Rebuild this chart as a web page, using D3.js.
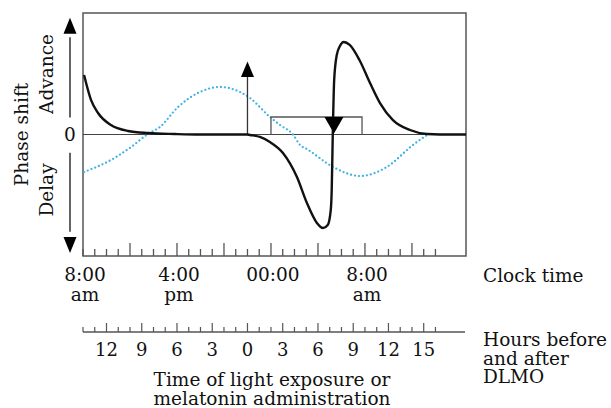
<!DOCTYPE html>
<meta charset="utf-8">
<script src="https://d3js.org/d3.v7.min.js"></script>
<style>
  body { margin: 0; background: #fff; }
  text { font-family: "DejaVu Serif", serif; fill: #111; }
</style>
<body>
<div id="chart"></div>
<script>
  // x values are clock hours (8 = 8:00 am, 24 = midnight, 32 = 8:00 am next day)
  var lightHours = [8.09, 8.68, 9.28, 10.38, 11.83, 13.53, 15.83, 17.96, 21.96, 22.21, 23.06, 23.91, 25.02, 26.21, 27.06, 27.91, 28.43, 28.83, 29.09, 29.17, 29.26, 29.38, 29.6, 29.87, 30.19, 30.7, 31.53, 32.43, 33.28, 34.38, 35.83, 37.28, 38.38, 40.6];
  var lightShift = [0.49, 0.285, 0.177, 0.078, 0.029, 0.012, 0.004, 0, 0, -0.004, -0.02, -0.062, -0.152, -0.35, -0.564, -0.728, -0.77, -0.745, -0.62, -0.457, 0, 0.449, 0.654, 0.728, 0.761, 0.737, 0.613, 0.424, 0.259, 0.119, 0.037, 0.004, 0, 0];

  var melHours = [8.09, 10.38, 12.0, 13.53, 14.55, 16.09, 17.96, 19.66, 21.36, 22.21, 23.91, 24.77, 25.87, 26.47, 27.06, 29.28, 31.57, 33.87, 36.09, 37.28];
  var melShift = [-0.309, -0.21, -0.11, 0.004, 0.062, 0.226, 0.35, 0.391, 0.35, 0.30, 0.144, 0.078, 0, -0.086, -0.12, -0.267, -0.342, -0.267, -0.086, -0.004];

  var dlmoClock = 22;          // DLMO at 10 pm
  var lightPulse = {hour: 22, top: 0.6};
  var sleepBox = {start: 24, end: 31.75, height: 0.144};
  var melArrow = {hour: 29.36, top: 0.144};

  var clockTickHours = d3.range(8, 39);
  var clockMajor = [12, 16, 20, 24, 28, 32, 36];
  var clockLabels = [[8, "8:00", "am"], [16, "4:00", "pm"], [24, "00:00", ""], [32, "8:00", "am"]];
  var dlmoTicks = d3.range(-14, 17);
  var dlmoLabels = [-12, -9, -6, -3, 0, 3, 6, 9, 12, 15];

  var width = 611, height = 408;
  var plot = {left: 83, right: 466, top: 13, bottom: 256};
  var fs = "18.5px";

  var svg = d3.select("#chart").append("svg")
    .attr("width", width).attr("height", height);

  var x = d3.scaleLinear().domain([8, 40.6]).range([plot.left, plot.right]);
  var y = d3.scaleLinear().domain([-1, 1]).range([plot.bottom, plot.top]);

  // frame
  svg.append("rect")
    .attr("x", plot.left).attr("y", plot.top)
    .attr("width", plot.right - plot.left).attr("height", plot.bottom - plot.top)
    .attr("fill", "none").attr("stroke", "#555").attr("stroke-width", 1.5);

  // zero line
  svg.append("line")
    .attr("x1", plot.left).attr("x2", plot.right)
    .attr("y1", y(0)).attr("y2", y(0))
    .attr("stroke", "#444").attr("stroke-width", 1.2);

  // clock ticks on frame bottom
  svg.append("g").selectAll("line").data(clockTickHours).enter().append("line")
    .attr("x1", d => x(d)).attr("x2", d => x(d))
    .attr("y1", plot.bottom)
    .attr("y2", d => plot.bottom - (clockMajor.indexOf(d) >= 0 ? 13 : 7))
    .attr("stroke", "#555").attr("stroke-width", 1.3);

  var cl = svg.append("g").selectAll("text").data(clockLabels).enter().append("text")
    .attr("text-anchor", "middle").style("font-size", fs);
  cl.append("tspan").attr("x", d => x(d[0]) + 2).attr("y", 281).text(d => d[1]);
  cl.append("tspan").attr("x", d => x(d[0]) + 2).attr("y", 301).text(d => d[2]);

  svg.append("text").attr("x", 483).attr("y", 282).style("font-size", fs).text("Clock time");

  // melatonin PRC (dotted blue)
  var line = d3.line().x(d => x(d[0])).y(d => y(d[1])).curve(d3.curveMonotoneX);
  svg.append("path")
    .datum(d3.zip(melHours, melShift))
    .attr("d", line)
    .attr("fill", "none").attr("stroke", "#3cb2e4")
    .attr("stroke-width", 2.3).attr("stroke-linecap", "round")
    .attr("stroke-dasharray", "0,4");

  // sleep / melatonin box
  svg.append("path")
    .attr("d", "M" + x(sleepBox.start) + "," + y(0) + "V" + y(sleepBox.height) +
      "H" + x(sleepBox.end) + "V" + y(0))
    .attr("fill", "none").attr("stroke", "#555").attr("stroke-width", 1.3);

  // light pulse arrow
  svg.append("line")
    .attr("x1", x(lightPulse.hour)).attr("x2", x(lightPulse.hour))
    .attr("y1", y(0)).attr("y2", y(lightPulse.top) + 14)
    .attr("stroke", "#333").attr("stroke-width", 1.3);
  svg.append("path")
    .attr("d", "M" + x(lightPulse.hour) + "," + y(lightPulse.top) +
      "l6.5,15.5h-13z")
    .attr("fill", "#000");

  // light PRC (black)
  svg.append("path")
    .datum(d3.zip(lightHours, lightShift))
    .attr("d", line)
    .attr("fill", "none").attr("stroke", "#111").attr("stroke-width", 2.4);

  // melatonin down arrow
  svg.append("path")
    .attr("d", "M" + (x(melArrow.hour) - 9.5) + "," + y(melArrow.top) +
      "h19L" + x(melArrow.hour) + "," + (y(0) - 1) + "z")
    .attr("fill", "#000");

  // left phase-shift arrows
  var ax = 70;
  svg.append("line").attr("x1", ax).attr("x2", ax).attr("y1", y(0.14)).attr("y2", y(0.8))
    .attr("stroke", "#222").attr("stroke-width", 1.4);
  svg.append("path").attr("d", "M" + ax + "," + y(0.96) + "l6.5,16h-13z").attr("fill", "#000");
  svg.append("line").attr("x1", ax).attr("x2", ax).attr("y1", y(-0.15)).attr("y2", y(-0.8))
    .attr("stroke", "#222").attr("stroke-width", 1.4);
  svg.append("path").attr("d", "M" + ax + "," + y(-0.975) + "l6.5,-16h-13z").attr("fill", "#000");

  svg.append("text").attr("x", ax).attr("y", y(0) + 6.5).attr("text-anchor", "middle")
    .style("font-size", fs).text("0");

  svg.append("text").attr("transform", "translate(28," + y(0) + ") rotate(-90)")
    .attr("text-anchor", "middle").style("font-size", fs).text("Phase shift");
  svg.append("text").attr("transform", "translate(53," + 74 + ") rotate(-90)")
    .attr("text-anchor", "middle").style("font-size", fs).text("Advance");
  svg.append("text").attr("transform", "translate(53," + 190 + ") rotate(-90)")
    .attr("text-anchor", "middle").style("font-size", fs).text("Delay");

  // DLMO axis
  var dx = d => x(dlmoClock + d);
  var axisY = 332;
  svg.append("line").attr("x1", plot.left).attr("x2", plot.right - 1)
    .attr("y1", axisY).attr("y2", axisY).attr("stroke", "#555").attr("stroke-width", 1.3);
  svg.append("g").selectAll("line").data(dlmoTicks).enter().append("line")
    .attr("x1", dx).attr("x2", dx)
    .attr("y1", axisY)
    .attr("y2", d => axisY - (d % 3 === 0 ? 9 : 5))
    .attr("stroke", "#555").attr("stroke-width", 1.2);
  svg.append("g").selectAll("text").data(dlmoLabels).enter().append("text")
    .attr("x", dx).attr("y", 356).attr("text-anchor", "middle")
    .style("font-size", "18px").text(d => Math.abs(d));

  svg.append("text").attr("x", 272).attr("y", 386).attr("text-anchor", "middle")
    .style("font-size", fs).text("Time of light exposure or");
  svg.append("text").attr("x", 272).attr("y", 404.5).attr("text-anchor", "middle")
    .style("font-size", fs).text("melatonin administration");

  var hb = svg.append("text").attr("x", 483).style("font-size", fs);
  hb.append("tspan").attr("x", 483).attr("y", 346).text("Hours before");
  hb.append("tspan").attr("x", 483).attr("y", 364.5).text("and after");
  hb.append("tspan").attr("x", 483).attr("y", 383).text("DLMO");
</script>
</body>
